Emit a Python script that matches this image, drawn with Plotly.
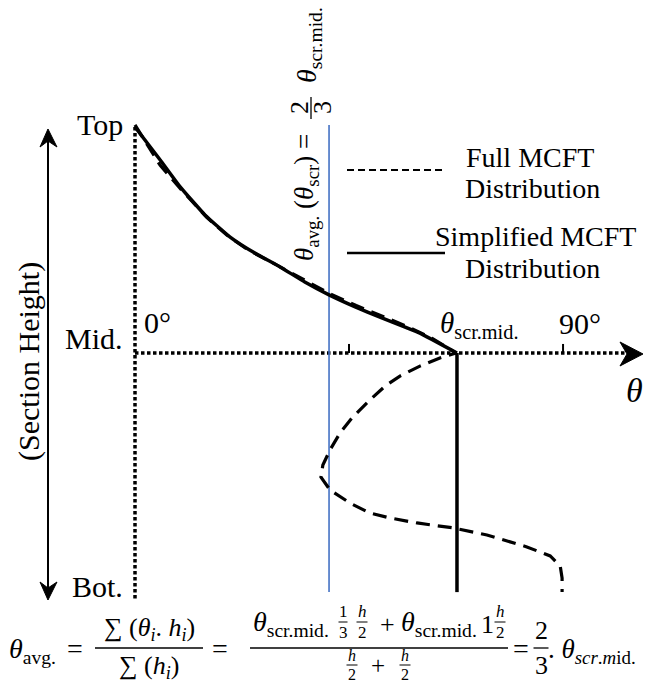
import plotly.graph_objects as go

# ---------------- data (angle in degrees, height: Top=1, Mid=0, Bot=-1) -------------
theta_simplified = [0, 5.3, 9.5, 14.7, 20.0, 25.2, 30.5, 35.7, 40.8, 46.3, 51.5, 56.8, 59.9, 67.7, 67.7]
height_simplified = [1.0, 0.854, 0.735, 0.611, 0.513, 0.442, 0.381, 0.314, 0.257, 0.204, 0.159, 0.115, 0.088, 0.0, -1.058]

theta_full = [0, 5.3, 9.5, 15.1, 19.3, 23.5, 28.4, 34.7, 41.0, 46.5, 51.9, 57.4, 62.4, 66.7, 67.5,
              64.1, 59.9, 55.7, 52.6, 49.4, 45.8, 43.1, 41.0, 39.5, 39.1, 41.0, 45.2, 49.4, 53.6,
              59.3, 66.9, 74.0, 82.4, 87.3, 89.4, 89.8, 89.8]
height_full = [1.009, 0.830, 0.728, 0.600, 0.522, 0.460, 0.405, 0.332, 0.262, 0.210, 0.163, 0.116, 0.066, 0.011, 0.0,
               -0.022, -0.058, -0.102, -0.146, -0.208, -0.283, -0.354, -0.429, -0.496, -0.549, -0.606, -0.664, -0.708, -0.730,
               -0.752, -0.774, -0.805, -0.858, -0.898, -0.942, -0.996, -1.058]

theta_avg = 40.8
angle_ticks = [45, 90]
section_top = 1.009
section_bottom = -1.058
axis_bottom = -1.093
axis_right = 103.0

# ---------------- geometry of the canvas -------------
W, H = 655, 683
X0PX, K = 135, 4.756      # px of 0 deg, px per degree
Y0PX, KH = 353, 226       # px of mid height, px per unit height
SERIF = "Liberation Serif"

fig = go.Figure()

# dotted axes
fig.add_trace(go.Scatter(x=[0, 0], y=[1.0, axis_bottom], mode="lines",
                         line=dict(color="black", width=3.5, dash="3.5px,2.5px"), hoverinfo="skip"))
fig.add_trace(go.Scatter(x=[0, axis_right], y=[0, 0], mode="lines",
                         line=dict(color="black", width=3.5, dash="3.5px,2.5px"), hoverinfo="skip"))
# ticks
tx, ty = [], []
for t in angle_ticks:
    tx += [t, t, None]
    ty += [0, 0.04, None]
fig.add_trace(go.Scatter(x=tx, y=ty, mode="lines", line=dict(color="black", width=2), hoverinfo="skip"))

# average line
fig.add_trace(go.Scatter(x=[theta_avg, theta_avg], y=[section_top, section_bottom], mode="lines",
                         line=dict(color="#4472C4", width=1.6), hoverinfo="skip"))
# full MCFT
fig.add_trace(go.Scatter(x=theta_full, y=height_full, mode="lines",
                         line=dict(color="black", width=3.2, dash="14px,8px"), hoverinfo="skip"))
# simplified MCFT: curved upper half, straight lower half
fig.add_trace(go.Scatter(x=theta_simplified[:-1], y=height_simplified[:-1], mode="lines", line_shape="spline",
                         line=dict(color="black", width=3.5, smoothing=0.4), hoverinfo="skip"))
fig.add_trace(go.Scatter(x=theta_simplified[-2:], y=height_simplified[-2:], mode="lines",
                         line=dict(color="black", width=3.5), hoverinfo="skip"))


def ann(x, y, text, size=28, angle=0, xa="center", ya="middle"):
    fig.add_annotation(x=x / W, y=1 - y / H, xref="paper", yref="paper", text=text, showarrow=False,
                       font=dict(family=SERIF, size=size, color="black"), textangle=angle,
                       xanchor=xa, yanchor=ya, borderpad=0)


def seg(x0, y0, x1, y1, width=2, dash=None, color="black"):
    fig.add_shape(type="line", xref="paper", yref="paper", x0=x0 / W, y0=1 - y0 / H,
                  x1=x1 / W, y1=1 - y1 / H, line=dict(color=color, width=width, dash=dash))


def poly(pts):
    path = "M " + " L ".join(f"{x / W:.5f},{1 - y / H:.5f}" for x, y in pts) + " Z"
    fig.add_shape(type="path", xref="paper", yref="paper", path=path,
                  fillcolor="black", line=dict(color="black", width=1))


def frac(cx, cy, num, den, size, barw, bw=1.3, pad=1):
    ann(cx, cy - pad, num, size, ya="bottom")
    ann(cx, cy + pad, den, size, ya="top")
    seg(cx - barw / 2, cy, cx + barw / 2, cy, bw)


# arrow heads
poly([(643, 354), (620, 342), (627, 354), (620, 366)])
seg(48, 140, 48, 590, 2)
poly([(48, 129), (40, 147), (48, 141), (57, 147)])
poly([(48, 600), (40, 582), (48, 588), (57, 582)])

# legend samples
seg(347, 170, 445, 170, 2, "7px,4px")
seg(347, 253, 445, 253, 2.5)
ann(530, 157, "Full MCFT", 28)
ann(532, 188, "Distribution", 28)
ann(535, 236, "Simplified MCFT", 28)
ann(532, 268, "Distribution", 28)

# axis labels
ann(124, 124, "Top", 30, xa="right")
ann(124, 338, "Mid.", 30, xa="right")
ann(124, 586, "Bot.", 30, xa="right")
ann(29, 362, "(Section Height)", 30, angle=-90)
ann(157, 322, "0°", 30)
ann(580, 323, "90°", 30)
ann(479, 325, "<i>θ</i><sub>scr.mid.</sub>", 29)
ann(634, 390, "<i>θ</i>", 34)

# rotated average label
ann(306, 198, "<i>θ</i><sub>avg.</sub> (<i>θ</i><sub>scr</sub>) =", 27, angle=-90)
ann(299, 108, "2", 26, angle=-90)
ann(322, 108, "3", 26, angle=-90)
seg(311, 97, 311, 119, 1.3)
ann(308, 45, "<i>θ</i><sub>scr.mid.</sub>", 28, angle=-90)

# bottom equation
ann(8, 650, "<i>θ</i><sub>avg.</sub>", 28, xa="left")
ann(75, 648, "=", 28)
frac(149, 648, "∑ (<i>θ<sub>i</sub></i>. <i>h<sub>i</sub></i>)", "∑ (<i>h<sub>i</sub></i>)", 26, 108, pad=2)
ann(220, 648, "=", 28)
seg(250, 648, 508, 648, 1.3)
ann(252, 623, "<i>θ</i><sub>scr.mid.</sub>", 28, xa="left")
frac(343, 622, "1", "3", 17, 9, 1, pad=0)
frac(362, 622, "<i>h</i>", "2", 17, 11, 1, pad=0)
ann(387, 624, "+", 26)
ann(400, 623, "<i>θ</i><sub>scr.mid.</sub>", 28, xa="left")
ann(487, 624, "1", 26)
frac(500, 622, "<i>h</i>", "2", 17, 11, 1, pad=0)
frac(352, 665, "<i>h</i>", "2", 16, 11, 1, pad=0)
ann(378, 665, "+", 25)
frac(405, 665, "<i>h</i>", "2", 16, 11, 1, pad=0)
ann(521, 648, "=", 28)
frac(541, 648, "2", "3", 26, 15, pad=2)
ann(547, 651, ". <i>θ</i><sub><i>scr</i>.<i>m</i>id.</sub>", 27, xa="left")

fig.update_layout(
    width=W, height=H, margin=dict(l=0, r=0, t=0, b=0),
    paper_bgcolor="white", plot_bgcolor="white", showlegend=False,
    xaxis=dict(visible=False, range=[-X0PX / K, (W - X0PX) / K], fixedrange=True),
    yaxis=dict(visible=False, range=[(Y0PX - H) / KH, Y0PX / KH], fixedrange=True),
)
fig.write_html("out.html")
